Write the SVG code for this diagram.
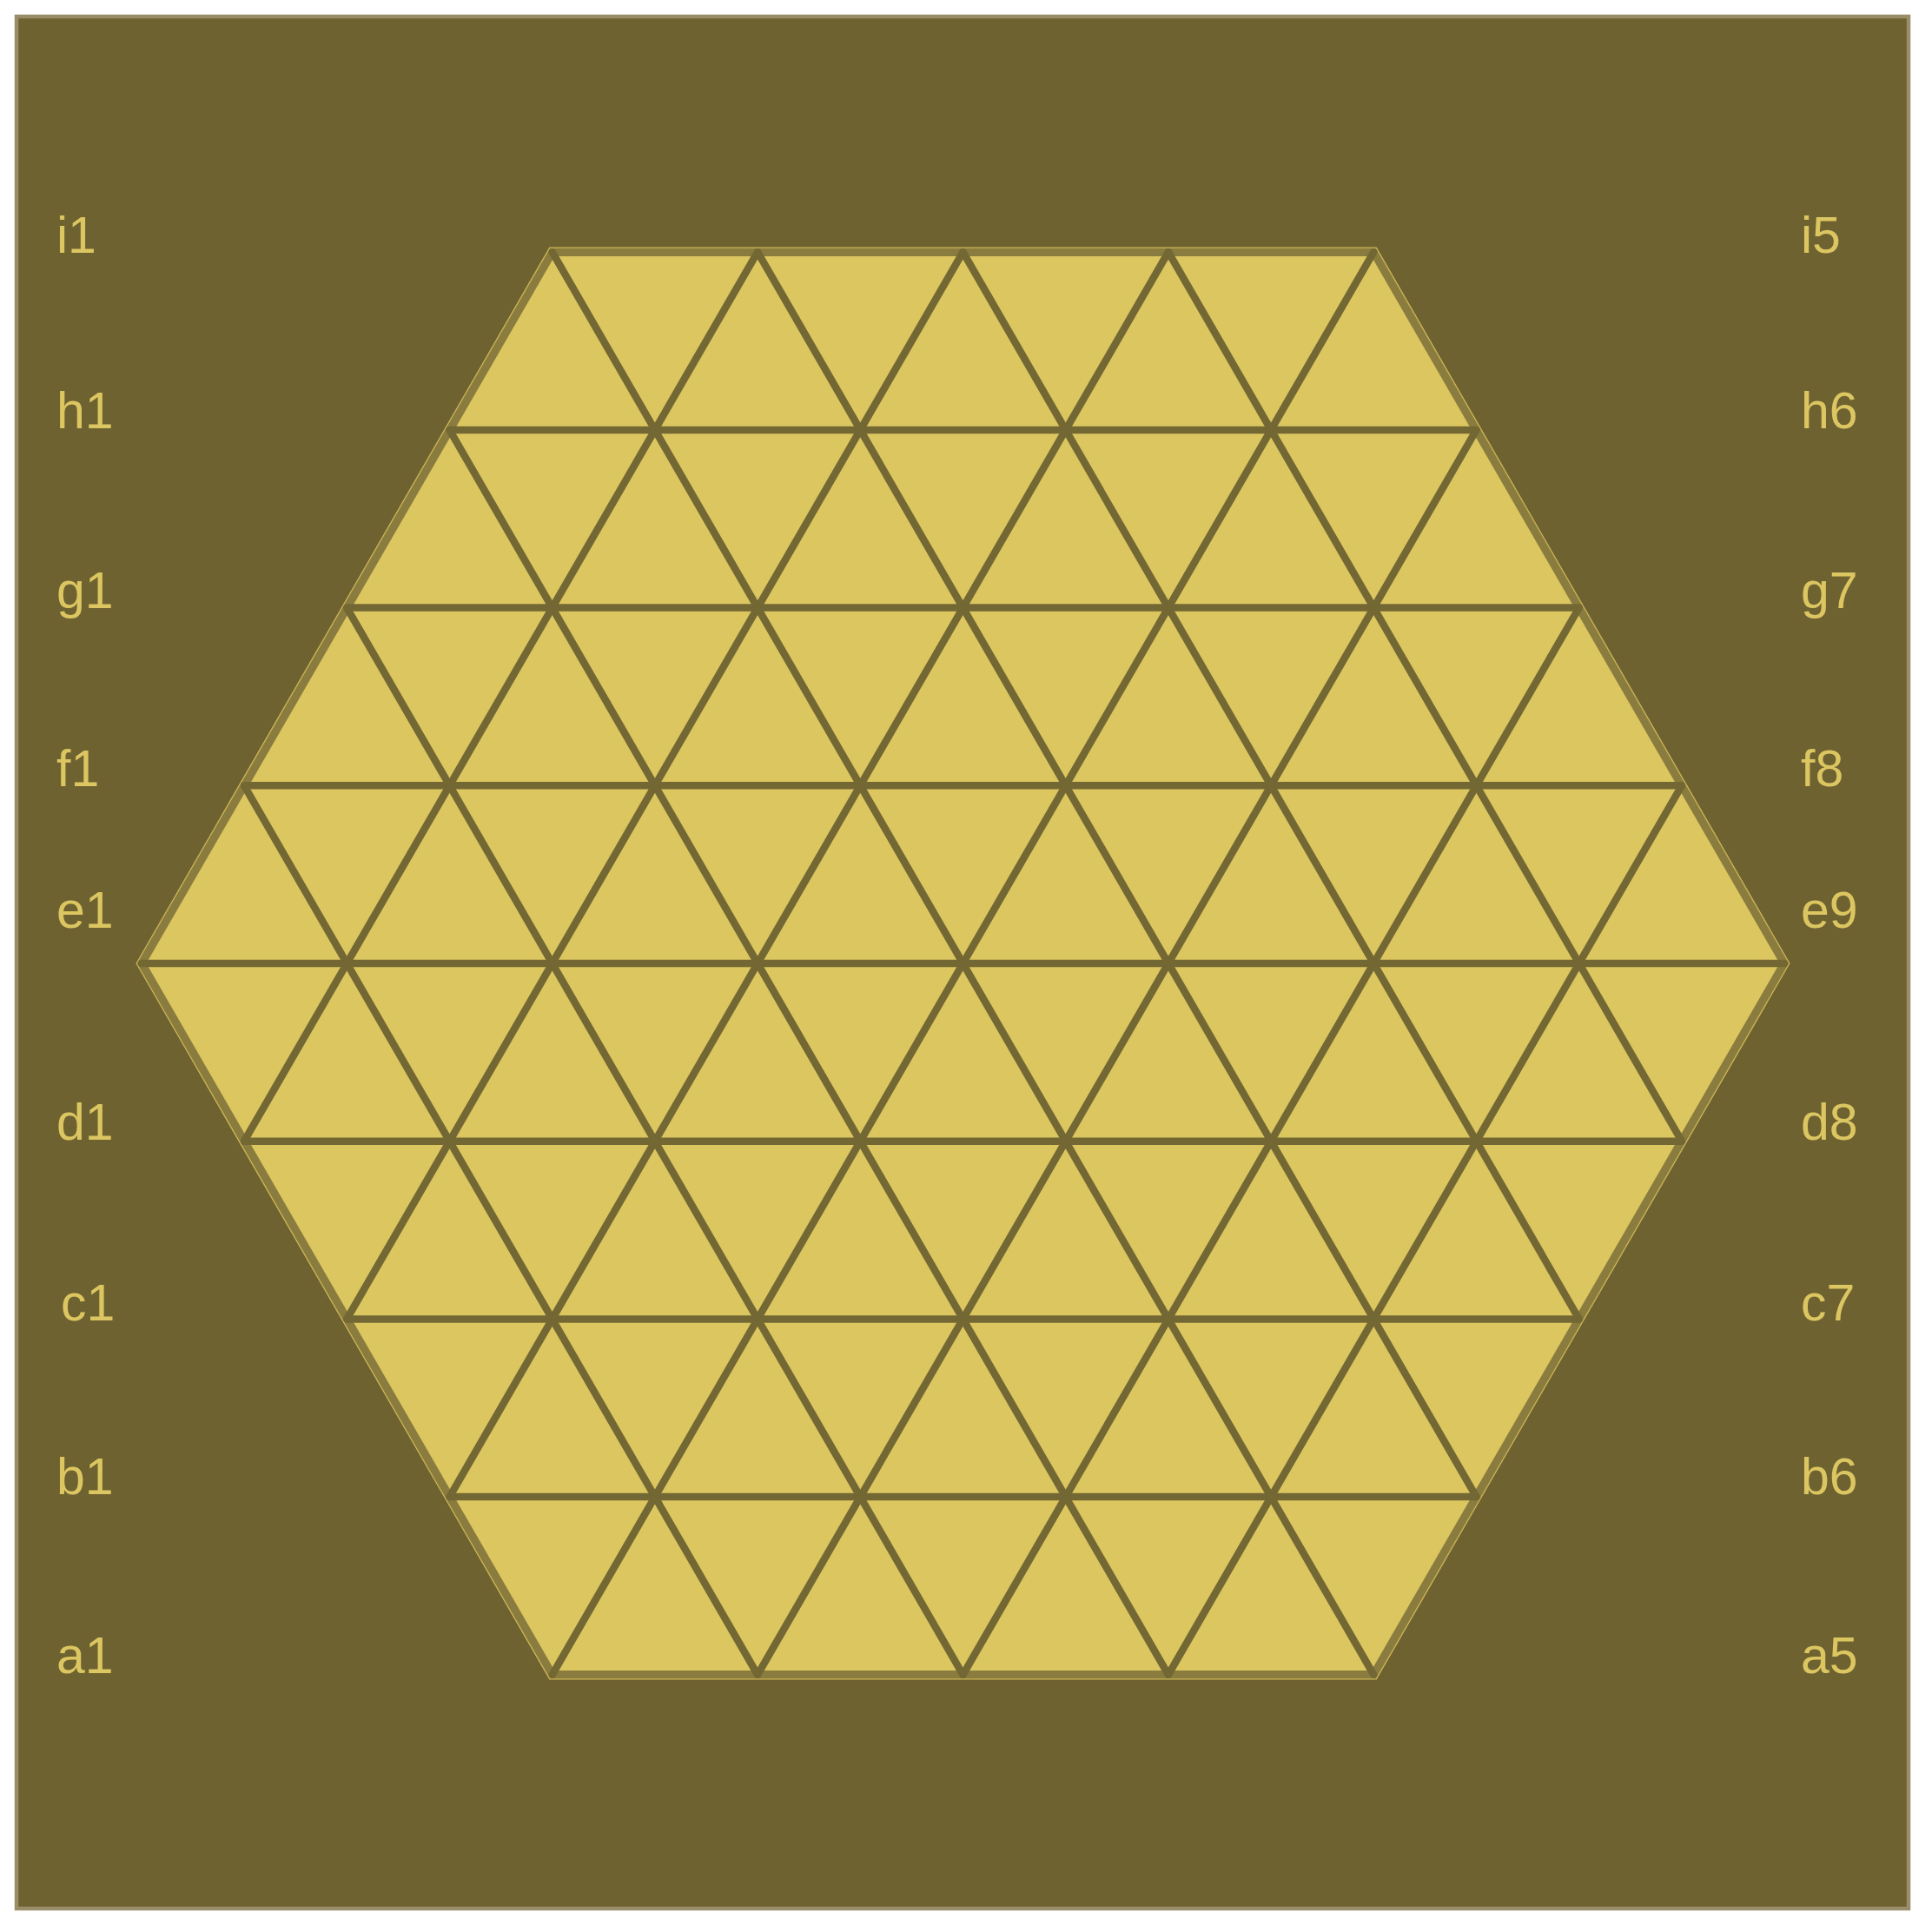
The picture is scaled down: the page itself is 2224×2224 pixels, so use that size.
<svg xmlns="http://www.w3.org/2000/svg" width="2224" height="2224" viewBox="0 0 2224 2224">
<style>
.lbl{font-family:"Liberation Sans",Arial,sans-serif;font-size:59px;fill:#dcc661}
.grid line{stroke:#736834;stroke-width:8.5;stroke-linecap:round}
</style>
<rect width="2224" height="2224" fill="#ffffff"/>
<g id="board-frame">
<rect x="19" y="19" width="2178" height="2178" fill="#6e6230" stroke="#9a8e6a" stroke-width="4.5"/>
</g>
<g id="hexagon">
<polygon points="635.7,290.2 1581.3,290.2 2054.1,1109 1581.3,1927.8 635.7,1927.8 162.9,1109" fill="#dcc660" stroke="#8a7c3f" stroke-width="9.5" stroke-linejoin="round"/>
<polygon points="632.8,285.1 1584.2,285.1 2059.9,1109 1584.2,1932.9 632.8,1932.9 157.1,1109" fill="none" stroke="#cdb756" stroke-width="1.3" stroke-linejoin="round"/>
</g>
<g id="connectors" class="grid">
<line x1="517.5" y1="494.9" x2="1699.5" y2="494.9"/>
<line x1="399.3" y1="699.6" x2="1817.7" y2="699.6"/>
<line x1="281.1" y1="904.3" x2="1935.9" y2="904.3"/>
<line x1="162.9" y1="1109" x2="2054.1" y2="1109"/>
<line x1="281.1" y1="1313.7" x2="1935.9" y2="1313.7"/>
<line x1="399.3" y1="1518.4" x2="1817.7" y2="1518.4"/>
<line x1="517.5" y1="1723.1" x2="1699.5" y2="1723.1"/>
<line x1="281.1" y1="1313.7" x2="872.1" y2="290.2"/>
<line x1="399.3" y1="1518.4" x2="1108.5" y2="290.2"/>
<line x1="517.5" y1="1723.1" x2="1344.9" y2="290.2"/>
<line x1="635.7" y1="1927.8" x2="1581.3" y2="290.2"/>
<line x1="872.1" y1="1927.8" x2="1699.5" y2="494.9"/>
<line x1="1108.5" y1="1927.8" x2="1817.7" y2="699.6"/>
<line x1="1344.9" y1="1927.8" x2="1935.9" y2="904.3"/>
<line x1="1935.9" y1="1313.7" x2="1344.9" y2="290.2"/>
<line x1="1817.7" y1="1518.4" x2="1108.5" y2="290.2"/>
<line x1="1699.5" y1="1723.1" x2="872.1" y2="290.2"/>
<line x1="1581.3" y1="1927.8" x2="635.7" y2="290.2"/>
<line x1="1344.9" y1="1927.8" x2="517.5" y2="494.9"/>
<line x1="1108.5" y1="1927.8" x2="399.3" y2="699.6"/>
<line x1="872.1" y1="1927.8" x2="281.1" y2="904.3"/>
</g>
<g id="labels-left">
<text class="lbl" x="65" y="291">i1</text>
<text class="lbl" x="65" y="493">h1</text>
<text class="lbl" x="65" y="700">g1</text>
<text class="lbl" x="65" y="905">f1</text>
<text class="lbl" x="65" y="1068">e1</text>
<text class="lbl" x="65" y="1312">d1</text>
<text class="lbl" x="70" y="1520">c1</text>
<text class="lbl" x="65" y="1720">b1</text>
<text class="lbl" x="65" y="1926">a1</text>
</g>
<g id="labels-right">
<text class="lbl" x="2073" y="291">i5</text>
<text class="lbl" x="2073" y="493">h6</text>
<text class="lbl" x="2073" y="700">g7</text>
<text class="lbl" x="2073" y="905">f8</text>
<text class="lbl" x="2073" y="1068">e9</text>
<text class="lbl" x="2073" y="1312">d8</text>
<text class="lbl" x="2073" y="1520">c7</text>
<text class="lbl" x="2073" y="1720">b6</text>
<text class="lbl" x="2073" y="1926">a5</text>
</g>
</svg>
